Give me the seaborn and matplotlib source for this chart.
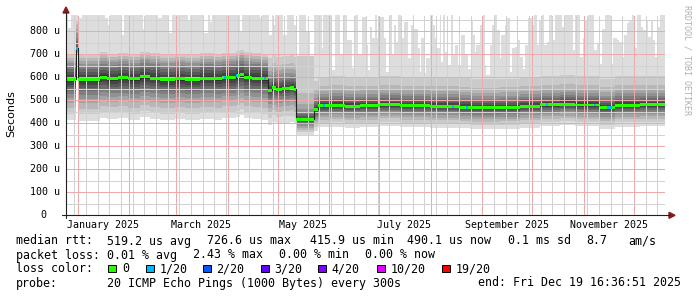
import numpy as np
import pandas as pd
import matplotlib
matplotlib.use("Agg")
import matplotlib.pyplot as plt
import matplotlib.dates as mdates
import matplotlib.transforms as mtrans
from matplotlib.lines import Line2D
from matplotlib.patches import Polygon, Rectangle
import seaborn as sns

# ---------------- data ----------------
start_time = "2024-12-25 00:00:00"
end_time = "2025-12-19 16:36:51"

# median RTT (microseconds), step changes at day offsets from start_time
median_day = [0, 5.8, 7.0, 20.2, 24.4, 31.1, 37.1, 44.3, 50.3, 56.3,
              65.3, 71.3, 80.3, 89.3, 93.5, 101.9, 104.3, 106.7, 111.5, 117.5,
              121.1, 123.5, 125.9, 129.5, 134.4, 136.8, 138.0, 148.8, 151.2, 158.4,
              167.4, 176.4, 188.4, 200.4, 218.4, 236.4, 242.4, 260.5, 272.5, 284.5,
              296.5, 305.5, 320.5, 329.5, 344.5]
median_us = [590, 726, 588, 600, 594, 598, 592, 602, 596, 590,
             594, 590, 596, 593, 598, 605, 612, 600, 596, 592,
             543, 556, 548, 552, 555, 548, 417, 460, 475, 478,
             474, 476, 482, 477, 474, 470, 467, 469, 474, 480,
             483, 479, 469, 478, 481]

# slowest ping (top of the smoke), step changes
max_day = [0, 1.0, 2.8, 7.4, 9.4, 23.2, 25.5, 26.2, 33.5, 34.8,
           46.5, 47.4, 55.5, 57.5, 61.9, 63.5, 73.5, 74.5, 83.1, 85.5,
           86.3, 87.5, 104.3, 105.7, 116.3, 117.7, 121.7, 123.4, 124.3, 125.3,
           130.3, 132.4, 136.8, 138.4, 139.8, 144.0, 146.4, 148.8, 153.4, 154.4,
           159.4, 161.4, 164.4, 166.4, 168.4, 171.4, 173.4, 175.4, 177.4, 180.4,
           181.2, 182.2, 183.6, 185.2, 186.8, 187.8, 190.8, 192.2, 193.6, 195.6,
           196.8, 198.2, 199.2, 201.2, 202.6, 205.2, 206.8, 208.2, 209.2, 211.2,
           212.3, 213.2, 215.3, 216.2, 218.3, 220.2, 221.3, 222.2, 224.3, 225.2,
           226.2, 227.6, 229.3, 230.9, 232.3, 233.6, 235.3, 237.2, 239.3, 241.3,
           242.9, 244.3, 245.3, 246.2, 248.3, 250.3, 251.3, 252.2, 254.3, 255.7,
           256.9, 258.9, 260.3, 261.3, 263.3, 264.9, 266.3, 267.7, 269.3, 271.3,
           272.5, 274.1, 275.5, 277.5, 279.5, 280.9, 282.5, 284.1, 285.5, 286.9,
           288.5, 290.1, 291.5, 293.5, 297.5, 298.9, 304.5, 305.5, 308.5, 310.1,
           311.5, 313.5, 316.9, 318.6, 320.1, 321.6, 323.5, 327.0, 328.5, 330.6,
           332.1, 333.6, 334.9, 336.6, 338.1, 339.6, 341.0, 342.6, 345.0, 346.6,
           348.2, 349.6, 351.0, 352.2, 353.6, 355.0, 356.6]
max_us = [872, 812, 872, 858, 872, 855, 826, 872, 782, 872,
          811, 872, 855, 872, 790, 872, 847, 872, 790, 872,
          840, 872, 800, 872, 855, 872, 782, 872, 826, 872,
          782, 872, 826, 690, 872, 800, 660, 872, 726, 872,
          630, 872, 700, 872, 760, 640, 870, 700, 860, 740,
          630, 819, 768, 870, 768, 860, 768, 623, 870, 696,
          826, 754, 870, 768, 840, 681, 826, 870, 811, 725,
          623, 768, 616, 681, 870, 826, 768, 725, 870, 667,
          870, 710, 652, 870, 696, 739, 652, 782, 696, 637,
          847, 782, 710, 739, 826, 870, 652, 609, 739, 826,
          870, 804, 681, 782, 826, 855, 623, 725, 732, 760,
          688, 637, 739, 855, 826, 870, 739, 847, 870, 739,
          754, 870, 760, 870, 818, 870, 718, 870, 688, 768,
          847, 870, 718, 746, 659, 811, 870, 659, 768, 760,
          754, 688, 782, 833, 847, 870, 725, 870, 819, 804,
          847, 775, 847, 760, 688, 819, 870]

# spread of the 19 faster pings around the median (us) in each period
smoke_jan_apr = [-177, -150, -125, -102, -82, -65, -50, -35, -22, -10,
                 8, 20, 33, 46, 59, 71, 82, 94, 108]
smoke_spike = [-26, -21, -16, -12, -9, -6, -4, -2, -1, 0,
               1, 4, 14, 29, 44, 64, 84, 104, 124]
smoke_may = [-150, -122, -98, -78, -60, -45, -32, -21, -12, -5,
             5, 14, 25, 37, 50, 65, 82, 105, 140]
smoke_dip = [-67, -55, -45, -37, -29, -22, -16, -11, -7, -3,
             3, 7, 13, 21, 31, 45, 65, 113, 273]
smoke_jun_dec = [-93, -75, -61, -50, -40, -31, -23, -16, -10, -5,
                 5, 12, 20, 29, 39, 51, 66, 86, 125]
period_day = [0, 5.8, 7.0, 121.1, 138.0, 148.8]
period_profile = [0, 1, 0, 2, 3, 4]

# periods with 1/20 packet loss
loss_start = [5.8, 95.0, 101.3, 118.7, 154.2, 231.7, 240.1, 288.1, 316.9, 324.9]
loss_end = [7.0, 96.2, 102.5, 119.9, 155.7, 233.2, 241.3, 289.6, 318.1, 327.8]

y_ticks = [0, 100, 200, 300, 400, 500, 600, 700, 800]
y_tick_labels = ["0", "100 u", "200 u", "300 u", "400 u", "500 u", "600 u", "700 u", "800 u"]
month_labels = ["January 2025", "March 2025", "May 2025", "July 2025",
                "September 2025", "November 2025"]
month_label_dates = ["2025-01-16", "2025-03-16", "2025-05-16", "2025-07-16",
                     "2025-09-16", "2025-11-16"]

loss_names = ["0", "1/20", "2/20", "3/20", "4/20", "10/20", "19/20"]
loss_colors = ["#26ff00", "#00b8ff", "#0059ff", "#5e00ff", "#7e00ff", "#dd00ff", "#ff0000"]

# ---------------- figure ----------------
sns.set_theme(style="white")
plt.rcParams['font.family'] = ['DejaVu Sans Mono', 'DejaVu Sans']

W, H = 697, 297
fig = plt.figure(figsize=(W / 100, H / 100), dpi=100)
fig.patch.set_facecolor("white")
X0, X1, Y0, Y1 = 66, 665.2, 215.3, 14.5
ax = fig.add_axes([X0 / W, 1 - Y0 / H, (X1 - X0) / W, (Y0 - Y1) / H])
ax.set_facecolor("white")

def fx(px):
    return px / W

def fy(py):
    return 1 - py / H

t0 = mdates.date2num(pd.Timestamp(start_time).to_pydatetime())
t1 = mdates.date2num(pd.Timestamp(end_time).to_pydatetime())
end_day = t1 - t0

def hold(days, vals, xs):
    days = np.asarray(days, float)
    vals = np.asarray(vals, float)
    idx = np.searchsorted(days, xs, side="right") - 1
    return vals[np.clip(idx, 0, len(vals) - 1)]

xs = np.unique(np.concatenate([median_day, max_day, period_day, [end_day]]))
xs = xs[xs <= end_day]
t = t0 + xs
med = hold(median_day, median_us, xs)
mx = hold(max_day, max_us, xs)
prof = hold(period_day, period_profile, xs).astype(int)
profiles = np.array([smoke_jan_apr, smoke_spike, smoke_may, smoke_dip, smoke_jun_dec], float)

pings = np.zeros((20, len(xs)))
pings[:19] = med[None, :] + profiles[prof].T
pings[19] = np.maximum(mx, pings[18])

half = 10
for i in range(1, half + 1):
    g = int(190 / half * (half - i)) + 50
    col = "#%02x%02x%02x" % (g, g, g)
    ax.fill_between(t, pings[i - 1], pings[20 - i], step="post", color=col,
                    lw=0, zorder=1)

df = pd.DataFrame({"t": t, "median": med})
sns.lineplot(data=df, x="t", y="median", ax=ax, drawstyle="steps-post",
             color="#202020", lw=0.8, estimator=None, zorder=4)

sw = 6.5
ax.fill_between(t, med - sw, med + sw, step="post", color=loss_colors[0], lw=0, zorder=5)
for s, e in zip(loss_start, loss_end):
    sub = np.unique(np.concatenate([[s], xs[(xs > s) & (xs < e)], [e]]))
    mv = hold(median_day, median_us, sub)
    ax.fill_between(t0 + sub, mv - sw, mv + sw, step="post", color=loss_colors[1],
                    lw=0, zorder=6)

ax.set_xlim(t0, t1)
ax.set_ylim(0, 872)

# grid (dotted, drawn over the smoke like rrdtool)
ax.set_yticks(y_ticks)
ax.set_yticks(np.arange(50, 872, 100), minor=True)
ax.xaxis.set_major_locator(mdates.MonthLocator())
ax.xaxis.set_minor_locator(mdates.WeekdayLocator(byweekday=mdates.MO))
ax.tick_params(which="both", length=0, labelbottom=False, labelleft=False)
ax.set_axisbelow(False)
dash = (0, (1, 1))
ax.grid(which="minor", axis="both", color="#d2d2d2", lw=0.72, linestyle=dash,
        antialiased=False)
ax.grid(which="major", axis="both", color="#eeaaaa", lw=0.72, linestyle=dash,
        antialiased=False)
ax.set_xlabel("")
ax.set_ylabel("")
for sp in ax.spines.values():
    sp.set_visible(False)

# axes lines and arrows
axis_col = "#202020"
arrow_col = "#8b1a1a"
fig.add_artist(Line2D([fx(X0), fx(X0)], [fy(218), fy(12)], color=axis_col, lw=0.8))
fig.add_artist(Line2D([fx(62), fx(670)], [fy(Y0), fy(Y0)], color=axis_col, lw=0.8))
fig.add_artist(Polygon([[fx(63), fy(13)], [fx(69), fy(13)], [fx(66), fy(7)]],
                       closed=True, color=arrow_col, transform=fig.transFigure))
fig.add_artist(Polygon([[fx(669), fy(212.3)], [fx(669), fy(218.3)], [fx(675), fy(215.3)]],
                       closed=True, color=arrow_col, transform=fig.transFigure))

# y tick labels
for v, lab in zip(y_ticks, y_tick_labels):
    py = Y0 - v * (Y0 - Y1) / 872
    xr = 59.5 if lab != "0" else 46.5
    fig.text(fx(xr), fy(py), lab, ha="right", va="center", fontsize=7.2,
             color="black")

# x labels
blend = mtrans.blended_transform_factory(ax.transData, fig.transFigure)
for d, lab in zip(month_label_dates, month_labels):
    xd = mdates.date2num(pd.Timestamp(d).to_pydatetime())
    ax.text(xd, fy(225), lab, transform=blend, ha="center", va="center",
            fontsize=7.2, color="black")

fig.text(fx(11), fy(113.5), "Seconds", rotation=90, ha="center", va="center",
         fontsize=8, family="DejaVu Sans", color="black")
fig.text(fx(687), fy(60), "RRDTOOL / TOBI OETIKER", rotation=270, ha="center",
         va="center", fontsize=6, color="#b0b0b0")

# legend
fs = 8.4
def lt(x, y, s):
    fig.text(fx(x), fy(y), s, ha="left", va="center", fontsize=fs, color="black")

lt(16, 241, "median rtt:")
lt(107.3, 241, "519.2 us avg")
lt(207.3, 241, "726.6 us max")
lt(310, 241, "415.9 us min")
lt(407.3, 241, "490.1 us now")
lt(507.7, 241, "0.1 ms sd")
lt(586, 241, "8.7")
lt(628.3, 241, "am/s")

lt(16, 255, "packet loss:")
lt(107.3, 255, "0.01 % avg")
lt(193.3, 255, "2.43 % max")
lt(279.3, 255, "0.00 % min")
lt(365, 255, "0.00 % now")

lt(16, 269, "loss color:")
sq_x = [108.3, 146, 203, 261, 318, 377, 442]
for sx, c, nm in zip(sq_x, loss_colors, loss_names):
    fig.add_artist(Rectangle((fx(sx), fy(272)), 7.5 / W, 7.5 / H, facecolor=c,
                             edgecolor="black", lw=0.7, transform=fig.transFigure))
    lt(sx + 13.5, 269, nm)

lt(16, 283, "probe:")
lt(107.3, 283, "20 ICMP Echo Pings (1000 Bytes) every 300s")
lt(478.3, 283, "end: Fri Dec 19 16:36:51 2025")

fig.savefig("out.png", dpi=100, facecolor="white")
